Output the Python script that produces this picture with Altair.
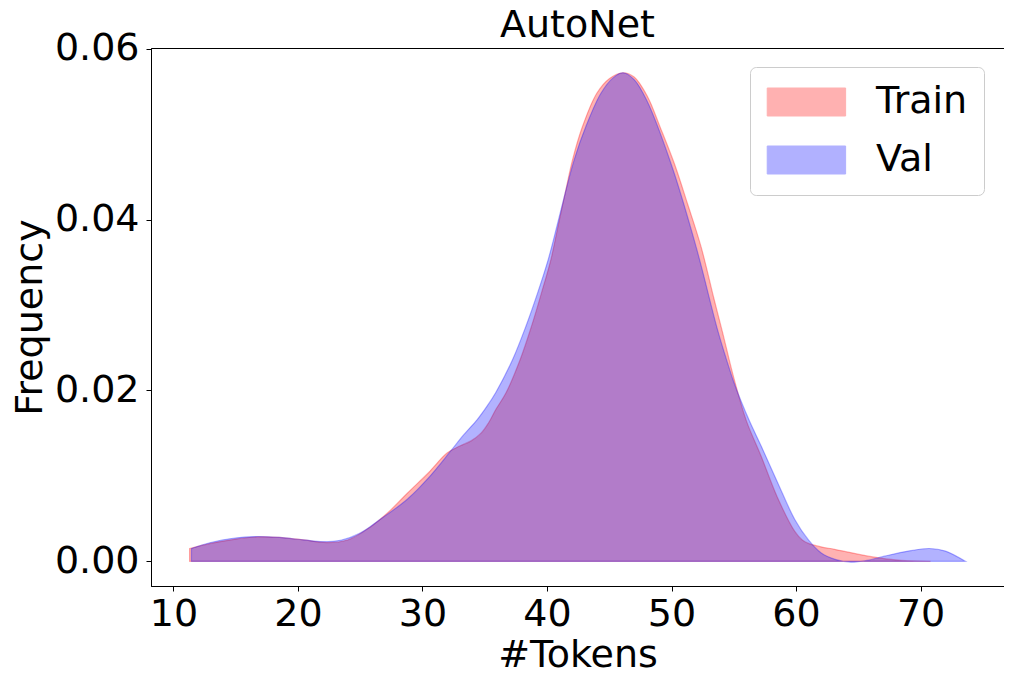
import altair as alt
import pandas as pd

# Train (red) KDE curve
train_x = [11.3, 13.0, 15.0, 16.7, 18.5, 20.5, 22.3, 24.0, 25.8, 27.3, 28.8, 30.5, 32.0,
           33.0, 33.9, 34.7, 35.3, 35.9, 36.7, 37.84, 38.75, 39.55, 40.31, 40.88, 41.46,
           42.05, 42.85, 44.0, 45.0, 46.1, 47.0, 48.08, 49.1, 50.22, 51.3, 52.36, 53.4,
           54.1, 55.0, 56.0, 57.2, 58.5, 59.9, 60.5, 61.0, 62.0, 63.1, 65.8, 68.4, 70.8]
train_y = [0.0015, 0.0021, 0.0026, 0.00285, 0.0028, 0.0025, 0.0022, 0.0025, 0.0040, 0.0058,
           0.0080, 0.0104, 0.0127, 0.0135, 0.0141, 0.0150, 0.0162, 0.0178, 0.0197, 0.0236,
           0.0275, 0.0314, 0.0353, 0.0392, 0.0431, 0.0470, 0.0509, 0.0548, 0.0565, 0.0572,
           0.0567, 0.0544, 0.0508, 0.0466, 0.0418, 0.0369, 0.0308, 0.0268, 0.0215, 0.0165,
           0.0123, 0.0075, 0.0035, 0.0025, 0.0021, 0.0017, 0.0014, 0.0006, 0.0001, 0.0]

# Val (blue) KDE curve
val_x = [11.45, 13.0, 14.8, 16.5, 18.5, 20.5, 22.0, 23.5, 25.0, 26.5, 28.8, 30.5, 32.2,
         33.3, 34.4, 35.2, 35.9, 37.23, 38.3, 39.24, 40.09, 40.79, 41.46, 42.18, 43.12,
         44.33, 45.3, 46.1, 47.0, 48.0, 49.95, 51.96, 53.7, 54.4, 55.0, 55.6, 56.3, 57.2,
         58.5, 59.9, 61.0, 62.0, 63.2, 64.4, 65.7, 67.1, 69.0, 70.7, 72.0, 73.6]
val_y = [0.0015, 0.0022, 0.0027, 0.0029, 0.0028, 0.0025, 0.0023, 0.0025, 0.0033, 0.0048,
         0.0073, 0.0098, 0.0128, 0.0148, 0.0166, 0.0182, 0.0198, 0.0236, 0.0275, 0.0314,
         0.0353, 0.0392, 0.0431, 0.0470, 0.0509, 0.0548, 0.0566, 0.0572, 0.0564, 0.0540,
         0.0466, 0.0369, 0.0271, 0.0237, 0.0210, 0.0187, 0.0163, 0.0135, 0.0093, 0.0049,
         0.0025, 0.0010, 0.0002, -0.0001, 0.0001, 0.0006, 0.0012, 0.0015, 0.0012, 0.0]

series_names = ["Train", "Val"]
series_colors = ["red", "blue"]
x_ticks = [10, 20, 30, 40, 50, 60, 70]
y_ticks = [0.0, 0.02, 0.04, 0.06]

df_train = pd.DataFrame({"x": train_x, "y": train_y, "series": "Train"})
df_val = pd.DataFrame({"x": val_x, "y": val_y, "series": "Val"})

FONT = "DejaVu Sans"
FS = 38

xscale = alt.Scale(domain=[8.2, 76.7], nice=False, zero=False)
yscale = alt.Scale(domain=[-0.00289, 0.0601], nice=False, zero=False)
cscale = alt.Scale(domain=series_names, range=series_colors)

legend = alt.Legend(
    title=None,
    orient="none",
    legendX=599,
    legendY=19,
    symbolType="M-1.27,-1H4.33V1H-1.27Z",
    symbolSize=784,
    symbolStrokeWidth=1,
    symbolOpacity=0.3,
    labelFontSize=FS,
    labelFont=FONT,
    labelColor="black",
    labelOffset=72,
    padding=16,
    rowPadding=20,
    cornerRadius=6,
    strokeColor="#cccccc",
    fillColor="white",
)


def area(df):
    return alt.Chart(df).mark_area(
        interpolate="catmull-rom", fillOpacity=0.3, strokeOpacity=0.3, strokeWidth=1.2
    ).encode(
        x=alt.X("x:Q", scale=xscale,
                axis=alt.Axis(values=x_ticks, title="#Tokens", format="d")),
        y=alt.Y("y:Q", scale=yscale, stack=None,
                axis=alt.Axis(values=y_ticks, title="Frequency", format=".2f")),
        fill=alt.Fill("series:N", scale=cscale, legend=legend),
        stroke=alt.Stroke("series:N", scale=cscale, legend=legend),
    )


chart = alt.layer(area(df_train), area(df_val)).properties(
    width=853,
    height=538,
    title=alt.TitleParams("AutoNet", fontSize=FS, font=FONT, fontWeight="normal",
                          color="black", offset=-15, anchor="middle", frame="group"),
    autosize=alt.AutoSizeParams(type="none"),
    padding={"left": 143, "top": 40, "right": 0, "bottom": 94},
).configure_view(
    stroke="black", strokeWidth=1
).configure_axis(
    grid=False,
    domainColor="black",
    domainWidth=1,
    tickColor="black",
    tickWidth=1,
    tickSize=5,
    labelColor="black",
    titleColor="black",
    labelFont=FONT,
    titleFont=FONT,
    labelFontSize=FS,
    titleFontSize=FS,
    titleFontWeight="normal",
).configure_axisY(
    labelPadding=7,
    titlePadding=5,
).configure_axisX(
    labelPadding=4,
    titlePadding=3,
)

chart.save("out.html", embed_options={"renderer": "svg", "actions": False})
